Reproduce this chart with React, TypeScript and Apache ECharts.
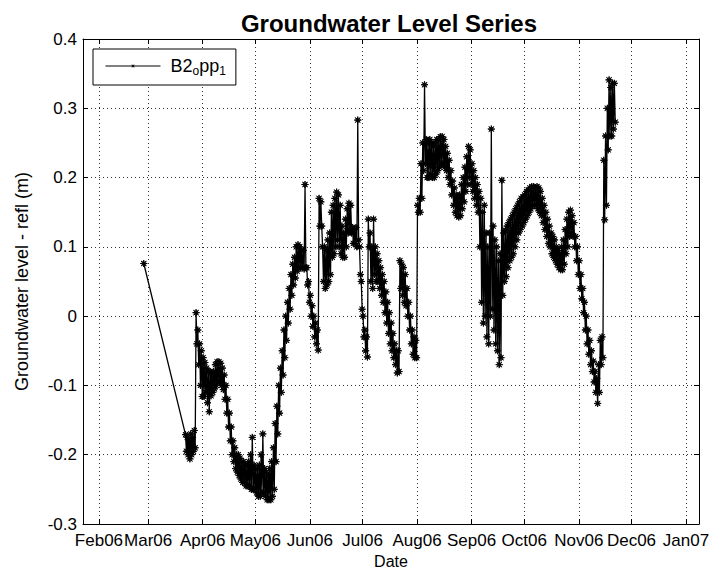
import React, { useEffect, useRef } from "react";
import * as echarts from "echarts";

// Groundwater level (m, relative to reference level).
// Each month holds one [daily high, daily low] pair per day, starting at the block's start date.
const feb06: [number, number][] = [[0.076, 0.076]]; // single reading, 26 Feb
const mar06: [number, number][] = [ // from 22 Mar
  [-0.171, -0.195], [-0.175, -0.2], [-0.178, -0.206], [-0.17, -0.2], [-0.175, -0.195],
  [-0.165, -0.19], [0.005, -0.04], [-0.02, -0.07], [-0.04, -0.1], [-0.05, -0.116],
];
const apr06: [number, number][] = [
  [-0.06, -0.116], [-0.067, -0.11], [-0.075, -0.125], [-0.08, -0.138], [-0.08, -0.115],
  [-0.085, -0.11], [-0.08, -0.105], [-0.07, -0.1], [-0.066, -0.095], [-0.066, -0.095],
  [-0.068, -0.1], [-0.075, -0.106], [-0.085, -0.12], [-0.1, -0.14], [-0.12, -0.16],
  [-0.14, -0.18], [-0.16, -0.2], [-0.18, -0.21], [-0.19, -0.22], [-0.2, -0.225],
  [-0.2, -0.23], [-0.205, -0.235], [-0.21, -0.24], [-0.21, -0.24], [-0.215, -0.245],
  [-0.215, -0.245], [-0.21, -0.245], [-0.2, -0.25], [-0.175, -0.25], [-0.215, -0.25],
];
const may06: [number, number][] = [
  [-0.22, -0.255], [-0.22, -0.26], [-0.215, -0.26], [-0.2, -0.255], [-0.17, -0.255],
  [-0.22, -0.26], [-0.225, -0.265], [-0.23, -0.265], [-0.22, -0.265], [-0.21, -0.26],
  [-0.19, -0.25], [-0.155, -0.21], [-0.13, -0.17], [-0.1, -0.14], [-0.075, -0.11],
  [-0.05, -0.085], [-0.02, -0.06], [0.0, -0.035], [0.02, -0.01], [0.04, 0.01],
  [0.06, 0.03], [0.075, 0.045], [0.085, 0.055], [0.1, 0.065], [0.103, 0.07],
  [0.1, 0.07], [0.095, 0.07], [0.095, 0.068], [0.19, 0.07], [0.07, 0.045], [0.05, 0.02],
];
const jun06: [number, number][] = [
  [0.03, 0.0], [0.015, -0.015], [0.0, -0.03], [-0.01, -0.04], [-0.02, -0.049],
  [0.17, 0.13], [0.165, 0.13], [0.1, 0.05], [0.1, 0.04], [0.095, 0.045],
  [0.11, 0.05], [0.12, 0.06], [0.15, 0.085], [0.16, 0.09], [0.17, 0.1],
  [0.179, 0.11], [0.175, 0.1], [0.16, 0.09], [0.13, 0.085], [0.12, 0.085],
  [0.14, 0.1], [0.155, 0.12], [0.163, 0.124], [0.16, 0.12], [0.128, 0.105],
  [0.125, 0.105], [0.128, 0.1], [0.283, 0.11], [0.1, 0.06], [0.05, 0.01],
];
const jul06: [number, number][] = [
  [0.0, -0.03], [-0.02, -0.05], [-0.03, -0.059], [0.14, 0.1], [0.12, 0.05],
  [0.1, 0.04], [0.14, 0.06], [0.1, 0.05], [0.09, 0.05], [0.08, 0.04],
  [0.07, 0.03], [0.06, 0.02], [0.05, 0.005], [0.035, -0.01], [0.02, -0.025],
  [0.005, -0.04], [-0.01, -0.05], [-0.025, -0.06], [-0.04, -0.07], [-0.05, -0.082],
  [-0.05, -0.08], [0.08, 0.04], [0.075, 0.03], [0.07, 0.02], [0.06, 0.015],
  [0.04, 0.0], [0.02, -0.02], [0.0, -0.04], [-0.02, -0.055], [-0.03, -0.06],
  [-0.035, -0.06],
];
const aug06: [number, number][] = [
  [0.16, 0.15], [0.17, 0.15], [0.22, 0.17], [0.25, 0.21], [0.334, 0.22],
  [0.255, 0.2], [0.25, 0.2], [0.255, 0.205], [0.25, 0.2], [0.245, 0.2],
  [0.25, 0.205], [0.255, 0.21], [0.255, 0.215], [0.259, 0.22], [0.259, 0.22],
  [0.255, 0.215], [0.245, 0.21], [0.235, 0.2], [0.225, 0.19], [0.21, 0.175],
  [0.195, 0.16], [0.185, 0.15], [0.175, 0.145], [0.17, 0.143], [0.175, 0.145],
  [0.19, 0.155], [0.2, 0.165], [0.215, 0.18], [0.23, 0.19], [0.245, 0.2],
  [0.24, 0.19],
];
const sep06: [number, number][] = [
  [0.22, 0.18], [0.21, 0.17], [0.2, 0.16], [0.19, 0.15], [0.18, 0.1],
  [0.17, 0.02], [0.15, -0.01], [0.16, 0.0], [0.12, -0.03], [0.1, -0.04],
  [0.12, 0.0], [0.27, 0.01], [0.13, -0.02], [0.11, -0.04], [0.1, -0.05],
  [0.08, -0.07], [0.09, -0.06], [0.196, 0.03], [0.12, 0.05], [0.124, 0.057],
  [0.13, 0.07], [0.135, 0.08], [0.14, 0.085], [0.145, 0.09], [0.15, 0.1],
  [0.155, 0.11], [0.16, 0.12], [0.165, 0.125], [0.17, 0.13], [0.172, 0.135],
];
const oct06: [number, number][] = [
  [0.175, 0.14], [0.18, 0.145], [0.182, 0.15], [0.185, 0.155], [0.187, 0.16],
  [0.187, 0.16], [0.185, 0.16], [0.187, 0.155], [0.185, 0.15], [0.18, 0.145],
  [0.17, 0.135], [0.16, 0.125], [0.15, 0.115], [0.14, 0.105], [0.13, 0.1],
  [0.12, 0.09], [0.115, 0.085], [0.11, 0.08], [0.1, 0.075], [0.095, 0.07],
  [0.09, 0.067], [0.1, 0.067], [0.11, 0.075], [0.125, 0.09], [0.14, 0.1],
  [0.15, 0.115], [0.153, 0.12], [0.145, 0.115], [0.135, 0.1], [0.115, 0.08],
  [0.1, 0.06],
];
const nov06: [number, number][] = [
  [0.08, 0.04], [0.06, 0.025], [0.04, 0.005], [0.02, -0.02], [0.0, -0.04],
  [-0.02, -0.055], [-0.035, -0.07], [-0.05, -0.08], [-0.065, -0.095], [-0.08, -0.11],
  [-0.09, -0.126], [-0.07, -0.11], [-0.035, -0.07], [-0.03, -0.06], [0.225, 0.139],
  [0.26, 0.16], [0.3, 0.24], [0.341, 0.26], [0.33, 0.26], [0.336, 0.27],
  [0.336, 0.28],
];

// [year, monthIndex, dayOfMonth] of the first reading in each block
const blockStarts: [number, number, number][] = [
  [2006, 1, 26], [2006, 2, 22], [2006, 3, 1], [2006, 4, 1], [2006, 5, 1],
  [2006, 6, 1], [2006, 7, 1], [2006, 8, 1], [2006, 9, 1], [2006, 10, 1],
];
const blocks = [feb06, mar06, apr06, may06, jun06, jul06, aug06, sep06, oct06, nov06];

const yTicks = { min: -0.3, max: 0.4, step: 0.1 };
const seriesName = "B2opp1";

const FONT = "'Liberation Sans', Arial, Helvetica, sans-serif";

// eight-pointed asterisk-like marker
const STAR =
  "path://M0,-5 L0.57,-1.39 L3.54,-3.54 L1.39,-0.57 L5,0 L1.39,0.57 L3.54,3.54 L0.57,1.39 L0,5 L-0.57,1.39 L-3.54,3.54 L-1.39,0.57 L-5,0 L-1.39,-0.57 L-3.54,-3.54 L-0.57,-1.39 Z";

function buildData(): [number, number][] {
  const out: [number, number][] = [];
  blocks.forEach((days, b) => {
    const [y, m, d] = blockStarts[b];
    days.forEach(([hi, lo], i) => {
      if (hi === lo) {
        out.push([new Date(y, m, d + i, 12).getTime(), hi]);
      } else {
        out.push([new Date(y, m, d + i, 6).getTime(), hi]);
        out.push([new Date(y, m, d + i, 18).getTime(), lo]);
      }
    });
  });
  return out;
}

export default function App() {
  const ref = useRef<HTMLDivElement>(null);

  useEffect(() => {
    if (!ref.current) return;
    const chart = echarts.init(ref.current, undefined, { renderer: "svg" });

    const xMin = new Date(2006, 0, 22, 22).getTime();
    const xMax = new Date(2007, 0, 8, 10).getTime();

    const axisLine = { show: true, onZero: false, lineStyle: { color: "#000", width: 1 } };
    const tick = { show: true, inside: true, length: 5, lineStyle: { color: "#000", width: 1 } };
    const grid = { show: true, lineStyle: { color: "#333", width: 1, type: [1, 3] } };

    chart.setOption({
      animation: false,
      backgroundColor: "#fff",
      title: {
        text: "Groundwater Level Series",
        left: 384,
        top: 6,
        textAlign: "center",
        textStyle: { fontFamily: FONT, fontSize: 24, fontWeight: "bold", color: "#000" },
      },
      grid: {
        left: 83,
        right: 21,
        top: 39,
        bottom: 47,
        containLabel: false,
        outerBoundsMode: "none",
      },
      legend: {
        left: 93,
        top: 49,
        itemWidth: 55,
        itemHeight: 6,
        itemGap: 8,
        padding: [8, 10, 8, 12],
        borderColor: "#000",
        borderWidth: 1,
        borderRadius: 0,
        backgroundColor: "#fff",
        itemStyle: { borderWidth: 0 },
        lineStyle: { width: 1 },
        formatter: () => "{g|}{n|B2}{s|o}{n|pp}{s|1}",
        textStyle: {
          color: "#000",
          fontFamily: FONT,
          fontSize: 18,
          rich: {
            g: { width: 5 },
            n: { fontFamily: FONT, fontSize: 18, color: "#000" },
            s: { fontFamily: FONT, fontSize: 12, color: "#000", padding: [10, 0, 0, 0] },
          },
        },
      },
      xAxis: [
        {
          type: "time",
          min: xMin,
          max: xMax,
          splitNumber: 12,
          position: "bottom",
          axisLine,
          axisTick: tick,
          splitLine: grid,
          axisLabel: {
            formatter: "{MMM}{yy}",
            color: "#000",
            fontFamily: FONT,
            fontSize: 17,
            margin: 8,
            hideOverlap: false,
          },
          name: "Date",
          nameLocation: "middle",
          nameGap: 28,
          nameMoveOverlap: false,
          nameTextStyle: { color: "#000", fontFamily: FONT, fontSize: 16, lineHeight: 18 },
        },
        {
          type: "time",
          min: xMin,
          max: xMax,
          splitNumber: 12,
          position: "top",
          axisLine,
          axisTick: tick,
          splitLine: { show: false },
          axisLabel: { show: false },
        },
      ],
      yAxis: [
        {
          type: "value",
          min: yTicks.min,
          max: yTicks.max,
          interval: yTicks.step,
          position: "left",
          axisLine,
          axisTick: tick,
          splitLine: grid,
          axisLabel: {
            color: "#000",
            fontFamily: FONT,
            fontSize: 17,
            margin: 6,
            formatter: (v: number) => String(+v.toFixed(1)),
          },
          name: "Groundwater level - refl (m)",
          nameLocation: "middle",
          nameGap: 52,
          nameTextStyle: { color: "#000", fontFamily: FONT, fontSize: 18 },
        },
        {
          type: "value",
          min: yTicks.min,
          max: yTicks.max,
          interval: yTicks.step,
          position: "right",
          axisLine,
          axisTick: tick,
          splitLine: { show: false },
          axisLabel: { show: false },
        },
      ],
      series: [
        {
          name: seriesName,
          type: "line",
          xAxisIndex: 0,
          yAxisIndex: 0,
          data: buildData(),
          symbol: STAR,
          symbolSize: 7,
          showSymbol: true,
          showAllSymbol: true,
          lineStyle: { color: "#000", width: 1.3 },
          itemStyle: { color: "#000", borderColor: "#000", borderWidth: 0.9 },
          emphasis: { disabled: true },
        },
      ],
    });

    return () => chart.dispose();
  }, []);

  return (
    <div
      ref={ref}
      style={{ position: "absolute", left: 0, top: 0, width: 720, height: 571, background: "#fff" }}
    />
  );
}
